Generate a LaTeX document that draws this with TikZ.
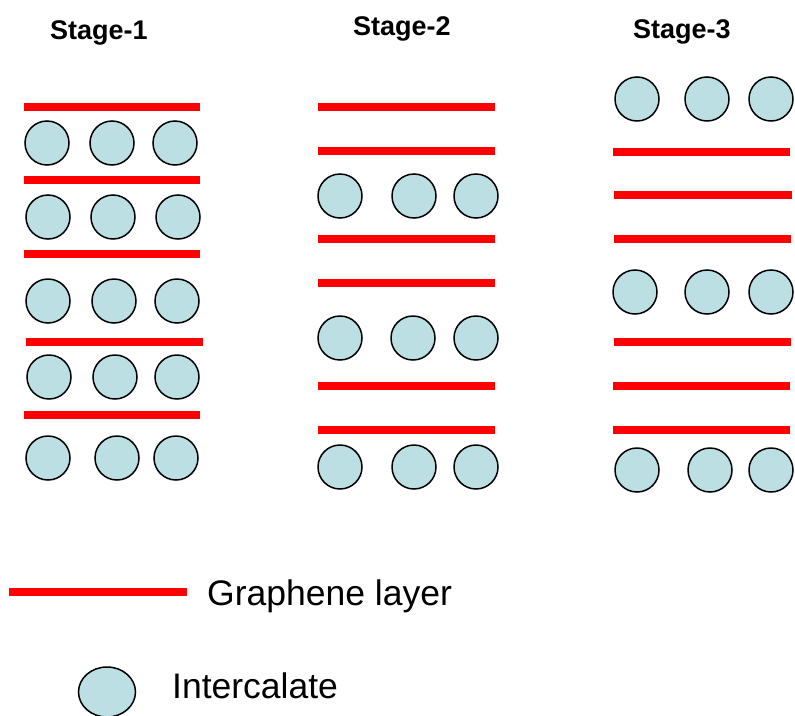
\documentclass[tikz,border=0pt]{standalone}
\usepackage{fontspec}
\setmainfont{Liberation Sans}
\usetikzlibrary{shapes.geometric}
\definecolor{ball}{RGB}{187,223,226}
\definecolor{gred}{RGB}{255,0,0}
\tikzset{
  layer/.style={draw=gred,line width=7.5pt},
  ion/.style={circle,draw=black,line width=1.5pt,fill=ball,minimum size=44pt,inner sep=0pt},
  title/.style={anchor=base west,inner sep=0pt,font=\fontsize{27}{30}\selectfont\bfseries},
  legtext/.style={anchor=base west,inner sep=0pt,font=\fontsize{35.5}{40}\selectfont}
}
\begin{document}
\begin{tikzpicture}[x=1pt,y=-1pt]
\useasboundingbox[fill=white] (0,0) rectangle (795,715);
% titles
\node[title] (t1) at (50,39) {Stage-1};
\node[title] (t2) at (353,35) {Stage-2};
\node[title] (t3) at (633,38) {Stage-3};
% Stage-1
\foreach \y/\a/\b in {107/24/200,180/24/200,254/24/200,342/26/203,415/24/200}
  \draw[layer] (\a,\y) -- (\b,\y);
\foreach \i/\y/\xa/\xb/\xc in {1/143/47/112/175,2/217/48/113/178,3/301/48/114/177,4/377/49/115/177,5/458/48/117/176}{
  \node[ion] (s1r\i a) at (\xa,\y) {};
  \node[ion] (s1r\i b) at (\xb,\y) {};
  \node[ion] (s1r\i c) at (\xc,\y) {};
}
% Stage-2
\foreach \y in {107,151,239,283,386,430}
  \draw[layer] (318,\y) -- (495,\y);
\foreach \i/\y/\xa/\xb/\xc in {1/196/340/414/476,2/338/340/413/476,3/467/340/414/476}{
  \node[ion] (s2r\i a) at (\xa,\y) {};
  \node[ion] (s2r\i b) at (\xb,\y) {};
  \node[ion] (s2r\i c) at (\xc,\y) {};
}
% Stage-3
\foreach \y/\a/\b in {152/613/790,195/614/792,239/614/791,342/614/791,386/613/790,430/613/790}
  \draw[layer] (\a,\y) -- (\b,\y);
\foreach \i/\y/\xa/\xb/\xc in {1/99/637/707/771,2/292/635/707/771,3/470/637/710/771}{
  \node[ion] (s3r\i a) at (\xa,\y) {};
  \node[ion] (s3r\i b) at (\xb,\y) {};
  \node[ion] (s3r\i c) at (\xc,\y) {};
}
% legend
\draw[layer] (9,592) -- (187,592);
\node[legtext] (lg1) at (207,605) {Graphene layer};
\node[ellipse,draw=black,line width=1.5pt,fill=ball,minimum width=57pt,minimum height=50pt,inner sep=0pt] (lgion) at (107,692) {};
\node[legtext] (lg2) at (172,698) {Intercalate};
\end{tikzpicture}
\end{document}
